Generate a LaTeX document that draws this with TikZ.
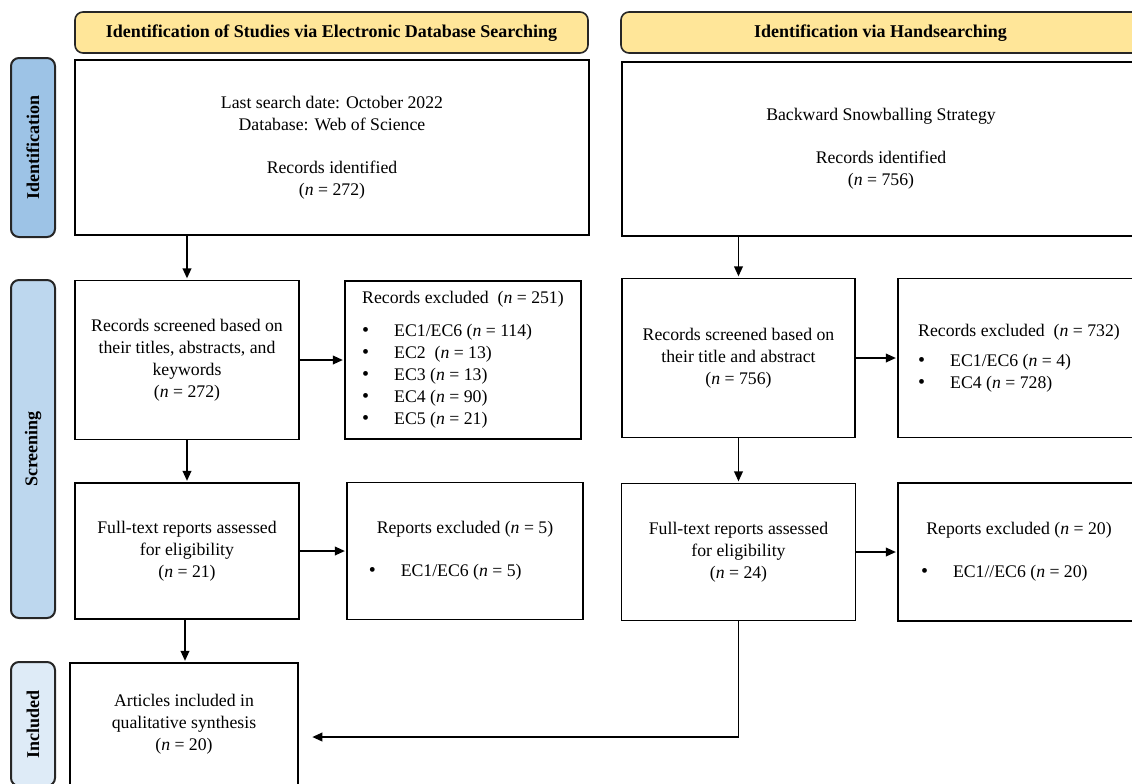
\documentclass[tikz,border=0pt]{standalone}
\usepackage{fontspec}
\setmainfont{Liberation Serif}
\usetikzlibrary{arrows.meta,shapes,calc,graphs}
\definecolor{hdryellow}{HTML}{FFE699}
\definecolor{idblue}{HTML}{9DC3E6}
\definecolor{scrblue}{HTML}{BDD7EE}
\definecolor{incblue}{HTML}{DEEBF7}
\newcommand{\exitem}[1]{\makebox[24pt][l]{\fontsize{15}{15}\selectfont\textbullet}#1}
\tikzset{
    x=0.75pt, y=-0.75pt,
    >={Triangle[length=7.5pt,width=6.5pt]},
    shorten >=1pt,
    box/.style={draw=black,line width=1.2pt,align=center,inner sep=2pt,
        font=\fontsize{13.3}{16.5}\selectfont},
    exbox/.style={box,align=left},
    header/.style={draw=black!85,line width=1.2pt,rounded corners=6pt,fill=hdryellow,
        text height=10pt,text depth=2pt,font=\bfseries\fontsize{13.5}{15}\selectfont},
    phase/.style={draw=black!85,line width=1.5pt,rounded corners=6pt,rotate=90,
        minimum height=33pt,font=\bfseries\fontsize{13.5}{15}\selectfont},
    flow/.style={->,line width=1.2pt},
}

\begin{document}
\begin{tikzpicture}
    \useasboundingbox (0,0) rectangle (1132,783);
    \clip (0,0) rectangle (1132,783);

    \node[header,minimum width=384.75pt,minimum height=30.75pt] (hdrdb) at (331.5,32.5)
        {Identification of Studies via Electronic Database Searching};
    \node[header,minimum width=389.25pt,minimum height=30.75pt] (hdrhand) at (880.5,32.5)
        {Identification via Handsearching};

    \node[phase,fill=idblue,minimum width=134.25pt] (phid) at (33,147.5) {Identification};
    \node[phase,fill=scrblue,minimum width=253.5pt] (phscr) at (33,449) {Screening};
    \node[phase,fill=incblue,minimum width=93pt] (phinc) at (33,724) {Included};

    \node[box,minimum width=385.5pt,minimum height=131.25pt] (idA) at (332,147.5)
        {Last search date: October 2022\\Database: Web of Science\\[16pt]
         Records identified\\(\textit{n} = 272)};
    \node[box,minimum width=388.5pt,minimum height=130.5pt] (idB) at (881,149)
        {Backward Snowballing Strategy\\[16pt]Records identified\\(\textit{n} = 756)};

    \node[box,minimum width=168pt,minimum height=119.25pt] (scrA) at (187,360)
        {Records screened based on\\their titles, abstracts, and\\keywords\\(\textit{n} = 272)};
    \node[exbox,minimum width=177pt,minimum height=118.5pt] (excA) at (463,360)
        {Records excluded\ \ (\textit{n} = 251)\\[8pt]
         \exitem{EC1/EC6 (\textit{n} = 114)}\\
         \exitem{EC2\ \ (\textit{n} = 13)}\\
         \exitem{EC3 (\textit{n} = 13)}\\
         \exitem{EC4 (\textit{n} = 90)}\\
         \exitem{EC5 (\textit{n} = 21)}};
    \node[box,minimum width=168pt,minimum height=102pt] (fullA) at (187,551)
        {Full-text reports assessed\\for eligibility\\(\textit{n} = 21)};
    \node[exbox,minimum width=177pt,minimum height=102.75pt] (excB) at (465,551)
        {Reports excluded (\textit{n} = 5)\\[16pt]\hspace*{-6pt}\exitem{EC1/EC6 (\textit{n} = 5)}};
    \node[box,minimum width=171pt,minimum height=91.5pt] (incl) at (184,724)
        {Articles included in\\qualitative synthesis\\(\textit{n} = 20)};

    \node[box,minimum width=174.75pt,minimum height=119.25pt] (scrB) at (738.5,358)
        {Records screened based on\\their title and abstract\\(\textit{n} = 756)};
    \node[exbox,minimum width=181.5pt,minimum height=119.25pt] (excC) at (1019,358)
        {Records excluded\ \ (\textit{n} = 732)\\[6pt]
         \exitem{EC1/EC6 (\textit{n} = 4)}\\
         \exitem{EC4 (\textit{n} = 728)}};
    \node[box,minimum width=175.5pt,minimum height=102.75pt] (fullB) at (738.5,552)
        {Full-text reports assessed\\for eligibility\\(\textit{n} = 24)};
    \node[exbox,minimum width=181.5pt,minimum height=103.5pt] (excD) at (1019,552)
        {Reports excluded (\textit{n} = 20)\\[16pt]\hspace*{-4pt}\exitem{EC1//EC6 (\textit{n} = 20)}};

    \coordinate (inclin) at (311,737);

    \graph[use existing nodes, edges={line width=1.2pt}] {
        scrA -> excA;
        scrA -> fullA;
        fullA -> excB;
        scrB -> excC;
        scrB -> fullB;
        fullB -> excD;
    };

    \draw[flow] (scrA |- idA.south) -- (scrA);
    \draw[flow] (scrB |- idB.south) -- (scrB);
    \draw[flow] (fullA.south -| 185,0) -- (incl.north -| 185,0);
    \draw[flow] (fullB.south) |- (inclin);
\end{tikzpicture}
\end{document}
